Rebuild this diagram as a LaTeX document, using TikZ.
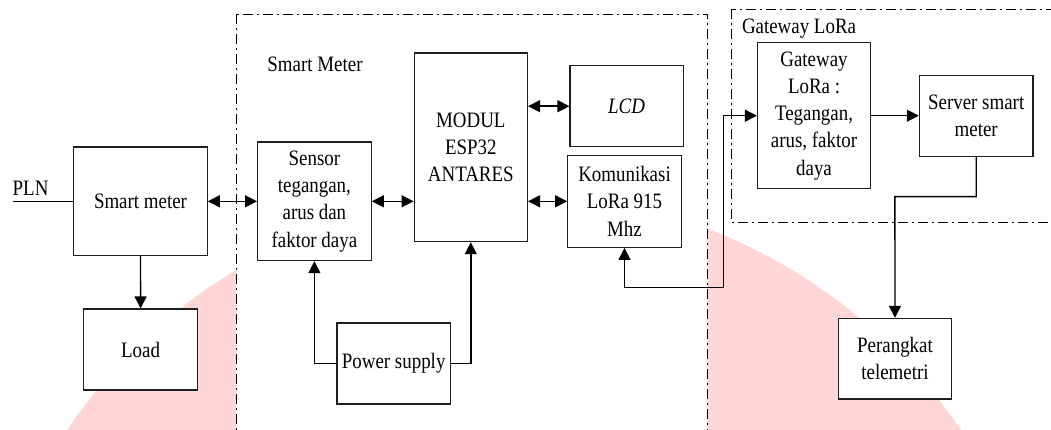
\documentclass[tikz,border=0pt]{standalone}
\usepackage{fontspec}
\setmainfont[FakeStretch=0.86]{Liberation Serif}
\usetikzlibrary{arrows.meta}
\definecolor{wmpink}{RGB}{255,214,214}
\definecolor{boxline}{RGB}{30,30,30}
\begin{document}
\begin{tikzpicture}[x=1pt,y=-1pt,
  txt/.style={font=\fontsize{22}{27.3}\selectfont},
  box/.style={draw=boxline, line width=1.15pt, fill=white, align=center, inner sep=0pt, txt},
  lbl/.style={inner sep=0pt, txt},
  conn/.style={line width=1.4pt, draw=black},
  dashdotbox/.style={draw=black, line width=0.9pt, dash pattern=on 10pt off 4pt on 2pt off 4pt},
  >={Triangle[length=12pt,width=12pt]}]
\useasboundingbox (0,0) rectangle (1051,430);
\clip (0,0) rectangle (1051,430);
% watermark
\fill[wmpink] (514,733) circle (540);
% group frames
\draw[dashdotbox, fill=white] (236.3,14.3) rectangle (707.9,431);
\draw[dashdotbox] (731.6,9) rectangle (1060,222.7);
\node[lbl, anchor=base] (smlabel) at (315,72) {Smart Meter};
\node[lbl, anchor=base west] (gwlabel) at (741.8,33.3) {Gateway LoRa};
% blocks
\node[box, minimum width=133.5, minimum height=108.7] (sm) at (140.5,201.3) {Smart meter};
\node[box, minimum width=113.6, minimum height=81] (load) at (140.6,349.5) {Load};
\node[box, minimum width=113.6, minimum height=118.7] (sensor) at (314.4,201.3) {Sensor\\tegangan,\\arus dan\\faktor daya};
\node[box, minimum width=113.3, minimum height=188.7] (modul) at (470.8,147.3) {MODUL\\ESP32\\ANTARES};
\node[box, minimum width=113.3, minimum height=81] (ps) at (393.7,363.5) {Power supply};
\node[box, minimum width=113.1, minimum height=81] (lcd) at (626.6,106.2) {\textit{LCD}};
\node[box, minimum width=113.5, minimum height=92] (kom) at (624.5,201.3) {Komunikasi\\LoRa 915\\Mhz};
\node[box, minimum width=113.1, minimum height=146] (gw) at (814,115.7) {Gateway\\LoRa :\\Tegangan,\\arus, faktor\\daya};
\node[box, minimum width=113.7, minimum height=81] (srv) at (976.2,115.7) {Server smart\\meter};
\node[box, minimum width=113.5, minimum height=80.7] (per) at (895,358.7) {Perangkat\\telemetri};
% PLN
\node[lbl, anchor=base west] (pln) at (12.5,196) {PLN};
\coordinate (plnend) at (12.5,201.3);
\draw[conn, line width=1.1pt] (plnend) -- (sm.west);
% connectors
\draw[conn, <->] (sm.east) -- (sensor.west);
\draw[conn, <->] (sensor.east) -- (sensor.east -| modul.west);
\draw[conn, <->] (lcd.west -| modul.east) -- (lcd.west);
\draw[conn, <->] (kom.west -| modul.east) -- (kom.west);
\draw[conn, ->] (sm.south) -- (load.north);
\draw[conn, ->] (ps.west) -| (sensor.south);
\draw[conn, ->] (ps.east) -| (modul.south);
\coordinate (kg) at (723.2,287.3);
\draw[conn, <->] (kom.south) |- (kg) |- (gw.west);
\draw[conn, ->] (gw.east) -- (gw.east -| srv.west);
\coordinate (sp) at (894.9,196.7);
\draw[conn, ->] (srv.south) |- (sp) -- (per.north);
\end{tikzpicture}
\end{document}
